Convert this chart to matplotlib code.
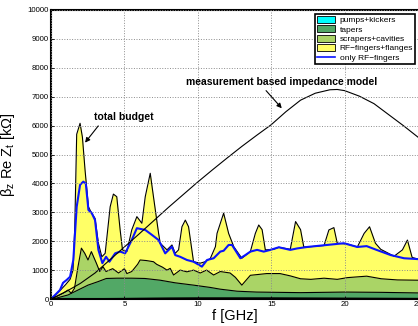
import matplotlib
matplotlib.use("Agg")
import matplotlib.pyplot as plt
from matplotlib.patches import Patch
from matplotlib.lines import Line2D

plt.rcParams['font.family'] = ['Liberation Sans', 'DejaVu Sans']
plt.rcParams['mathtext.fontset'] = 'custom'
plt.rcParams['mathtext.rm'] = 'Liberation Sans'
plt.rcParams['mathtext.default'] = 'regular'

# --- data (f in GHz, impedance in kOhm, cumulative levels) ---
f_model = [0, 1, 2, 3, 4, 5, 6, 7, 8, 9, 10, 11, 12, 13, 14, 15, 16, 17,
           18, 19, 19.5, 20, 21, 22, 23, 24, 25]
z_model = [0, 250, 540, 900, 1350, 1800, 2250, 2710, 3170, 3610, 4050, 4470,
           4880, 5280, 5660, 6030, 6480, 6880, 7120, 7240, 7250, 7210, 7020,
           6760, 6380, 6000, 5600]

f_total = [0, 0.5, 1.0, 1.3, 1.5, 1.62, 1.75, 1.98, 2.14, 2.32, 2.55, 2.78,
           3.0, 3.23, 3.46, 3.69, 4.03, 4.25, 4.48, 4.71, 4.87, 5.17, 5.5,
           5.85, 6.19, 6.42, 6.76, 6.98, 7.33, 7.44, 7.9, 8.24, 8.46, 8.69,
           8.92, 9.15, 9.37, 9.71, 10.17, 10.5, 10.85, 11.2, 11.31, 11.76,
           12.1, 12.45, 13.0, 13.58, 13.92, 14.15, 14.38, 14.6, 15.17, 15.52,
           16.3, 16.66, 17.0, 17.22, 17.45, 18.6, 18.93, 19.27, 19.5, 20.2,
           20.87, 21.33, 21.7, 22.1, 22.46, 23.37, 23.94, 24.28, 24.6, 25.0]
z_total = [0, 230, 500, 680, 1000, 2500, 5700, 6080, 5600, 4460, 3190, 2960,
           2790, 1930, 1460, 1580, 3190, 3630, 3540, 2390, 1700, 1640, 2390,
           2850, 2620, 3540, 4350, 3540, 2270, 1930, 1700, 1870, 1580, 1700,
           2500, 2730, 2500, 1290, 1240, 1290, 1400, 1810, 2270, 2970,
           2270, 1810, 1410, 1640, 2270, 2560, 2400, 1700, 1720, 1790,
           1720, 2680, 2400, 1800, 1800, 1850, 2390, 2470, 1930, 1900,
           1800, 2270, 2500, 1930, 1720, 1480, 1700, 2040, 1440, 1380]

f_rf = [0, 0.3, 0.61, 0.82, 1.07, 1.3, 1.52, 1.75, 1.98, 2.2, 2.37, 2.55,
        2.78, 3.0, 3.23, 3.5, 3.75, 3.98, 4.37, 4.71, 5.05, 5.5, 5.85, 6.42,
        6.87, 7.33, 7.44, 7.78, 8.24, 8.46, 8.8, 9.26, 9.71, 10.28, 10.63,
        11.08, 11.53, 11.76, 12.1, 12.33, 12.9, 13.24, 13.58, 14.04, 14.49,
        14.95, 15.52, 15.86, 16.3, 16.77, 17.45, 18.8, 19.95, 20.87, 21.5,
        22.23, 23.14, 24.05, 25.0]
z_rf = [0, 150, 310, 560, 660, 770, 1350, 3190, 3950, 4060, 4000, 3080,
        2970, 2730, 1700, 1240, 1460, 1290, 1580, 1640, 1580, 2040, 2450, 2390,
        2220, 2040, 1930, 1580, 1810, 1520, 1460, 1350, 1290, 1120, 1350,
        1410, 1640, 1670, 1870, 1870, 1410, 1520, 1640, 1700, 1640,
        1700, 1790, 1750, 1700, 1750, 1800, 1870, 1930, 1800, 1830,
        1690, 1520, 1410, 1380]

f_scr = [0, 0.14, 0.82, 1.16, 1.38, 1.6, 1.84, 2.07, 2.3, 2.52, 2.75, 3.09,
         3.32, 3.54, 3.75, 4.2, 4.6, 5.0, 5.17, 5.5, 5.9, 6.07, 6.5, 6.98,
         7.2, 7.6, 7.9, 8.12, 8.35, 8.8, 9.26, 9.71, 10.17, 10.6, 11.08,
         11.53, 12.2, 12.56, 13.0, 13.58, 14.7, 15.6, 16.3, 17.0, 17.7,
         18.6, 19.5, 20.2, 21.5, 22.5, 23.6, 25.0]
z_scr = [0, 24, 200, 310, 200, 370, 1120, 1760, 1580, 1350, 1640, 1240,
         950, 1120, 950, 1050, 900, 1050, 880, 950, 1200, 1350, 1330, 1290,
         1200, 1100, 1000, 1060, 830, 1000, 940, 1000, 900, 1000, 830,
         950, 900, 750, 480, 820, 880, 880, 800, 700, 680,
         720, 680, 740, 790, 700, 660, 650]

f_tap = [0, 0.14, 0.5, 1.16, 1.84, 2.52, 3.2, 3.77, 4.5, 5.5, 6.4, 7.44,
         8.46, 9.71, 10.85, 11.53, 12.67, 14, 15.5, 17, 20, 22.5, 25]
z_tap = [0, 0, 50, 140, 310, 480, 600, 710, 720, 720, 710, 650,
         560, 480, 400, 340, 270, 240, 230, 220, 240, 230, 210]

f_pump = [0, 2, 5, 8, 10, 15, 20, 25]
z_pump = [0, 10, 20, 35, 40, 40, 30, 20]

labels = ['pumps+kickers', 'tapers', 'scrapers+cavities',
          'RF\u2212fingers+flanges', 'only RF\u2212fingers']
colors = ['#00ffff', '#52a866', '#aad466', '#ffff66']
blue = '#0a14ff'

fig = plt.figure(figsize=(4.18, 3.26), dpi=100)
ax = fig.add_axes([51 / 418, 27 / 326, 367 / 418, 289 / 326])

# stacked layers, painted top level first
ax.fill_between(f_total, z_total, 0, color=colors[3], lw=0)
ax.fill_between(f_scr, z_scr, 0, color=colors[2], lw=0)
ax.fill_between(f_tap, z_tap, 0, color=colors[1], lw=0)
ax.fill_between(f_pump, z_pump, 0, color=colors[0], lw=0)
for fx, zx in [(f_total, z_total), (f_scr, z_scr), (f_tap, z_tap), (f_pump, z_pump)]:
    ax.plot(fx, zx, color='black', lw=0.8)

ax.plot(f_rf, z_rf, color=blue, lw=1.5)
ax.plot(f_model, z_model, color='black', lw=0.8)

ax.set_xlim(0, 25)
ax.set_ylim(0, 10000)
ax.set_xticks([0, 5, 10, 15, 20, 25])
ax.set_yticks(range(0, 10001, 1000))
ax.tick_params(labelsize=5.6, direction='in', length=2, width=0.6, pad=1.5)
ax.grid(True, linestyle=':', color='0.55', lw=0.7)
ax.set_axisbelow(False)
for s in ['left', 'top', 'bottom']:
    ax.spines[s].set_linewidth(1.5)
ax.spines['right'].set_visible(False)

ax.set_xlabel('f [GHz]', fontsize=10.5, labelpad=1)
ax.set_ylabel('\u03b2$_z$ Re Z$_t$ [k\u03a9]', fontsize=10.5)
ax.yaxis.set_label_coords(-0.092, 0.5)

ax.text(2.93, 6300, 'total budget', fontsize=7.5, fontweight='bold',
        ha='left', va='center')
ax.annotate('', xy=(2.32, 5410), xytext=(3.22, 5990),
            arrowprops=dict(arrowstyle='-|>', lw=0.8, color='black',
                            mutation_scale=7, shrinkA=0, shrinkB=0))
ax.text(9.2, 7520, 'measurement based impedance model', fontsize=7.5,
        fontweight='bold', ha='left', va='center')
ax.annotate('', xy=(15.72, 6600), xytext=(14.65, 7210),
            arrowprops=dict(arrowstyle='-|>', lw=0.8, color='black',
                            mutation_scale=7, shrinkA=0, shrinkB=0))

handles = [Patch(facecolor=c, edgecolor='black', lw=0.6) for c in colors]
handles.append(Line2D([0], [0], color=blue, lw=1.2))
leg = ax.legend(handles, labels, loc='upper right', fontsize=6,
                bbox_to_anchor=(415 / 418, 312 / 326), bbox_transform=fig.transFigure,
                fancybox=False, framealpha=1, edgecolor='black',
                borderpad=0.25, labelspacing=0.12, handlelength=2.2,
                handleheight=0.9, handletextpad=0.5, borderaxespad=0)
leg.get_frame().set_linewidth(1.2)

fig.savefig('out.png', dpi=100)
